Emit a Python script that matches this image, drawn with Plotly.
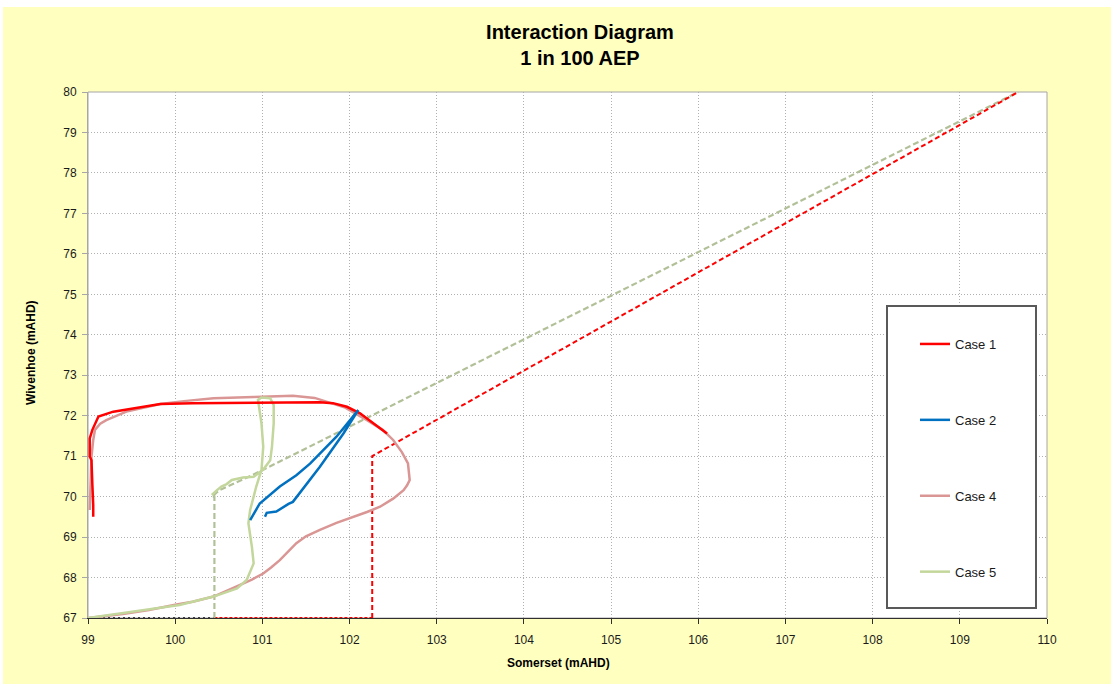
import plotly.graph_objects as go

# Case curves (Somerset level vs Wivenhoe level, mAHD)
case1_x = [99.06, 99.06, 99.05, 99.04, 99.02, 99.02, 99.05, 99.08, 99.12, 99.29, 99.52, 99.83,
           100.2, 100.6, 101.0, 101.4, 101.66, 101.81, 101.97, 102.12, 102.27, 102.43]
case1_y = [69.50, 69.80, 70.30, 70.90, 70.99, 71.44, 71.65, 71.81, 71.98, 72.10, 72.18, 72.29,
           72.31, 72.32, 72.33, 72.33, 72.33, 72.31, 72.22, 72.06, 71.81, 71.56]

case2_x = [100.86, 100.97, 101.20, 101.39, 101.55, 101.85, 102.10, 101.93, 101.66, 101.43,
           101.35, 101.30, 101.20, 101.16, 101.05, 101.03]
case2_y = [69.42, 69.83, 70.25, 70.53, 70.82, 71.48, 72.14, 71.56, 70.74, 70.08,
           69.87, 69.82, 69.67, 69.63, 69.60, 69.50]

case4_x = [99.02, 99.03, 99.04, 99.06, 99.08, 99.14, 99.21, 99.44, 99.67, 99.83, 100.1, 100.44,
           100.9, 101.35, 101.6, 101.74, 101.95, 102.2, 102.38, 102.5, 102.6, 102.67, 102.69,
           102.66, 102.62, 102.5, 102.35, 102.2, 102.04, 101.85, 101.66, 101.5, 101.39, 101.3,
           101.2, 101.1, 101.01, 100.88, 100.74, 100.6, 100.44, 100.2, 100.0, 99.7, 99.4, 99.0]
case4_y = [69.67, 70.20, 70.99, 71.40, 71.65, 71.80, 71.89, 72.10, 72.22, 72.29, 72.36, 72.43,
           72.46, 72.49, 72.44, 72.35, 72.20, 71.89, 71.65, 71.40, 71.10, 70.82, 70.41,
           70.28, 70.16, 69.95, 69.75, 69.62, 69.50, 69.35, 69.18, 69.02, 68.85, 68.65,
           68.43, 68.25, 68.10, 67.95, 67.82, 67.68, 67.53, 67.40, 67.33, 67.20, 67.10, 67.00]

case5_x = [99.0, 99.67, 100.05, 100.44, 100.71, 100.82, 100.9, 100.88, 100.84, 100.86, 100.93,
           100.99, 101.01, 100.99, 100.95, 100.99, 101.09, 101.13, 101.13, 101.11, 101.09, 101.01,
           100.90, 100.78, 100.71, 100.65, 100.59, 100.53, 100.48, 100.42]
case5_y = [67.00, 67.20, 67.32, 67.53, 67.73, 67.94, 68.35, 68.76, 69.34, 69.67, 70.25,
           70.66, 71.23, 71.81, 72.39, 72.45, 72.43, 72.26, 71.81, 71.23, 70.90, 70.67,
           70.49, 70.47, 70.43, 70.41, 70.31, 70.25, 70.16, 70.04]

# Dashed envelope lines
env1_x = [102.26, 102.26, 109.67]
env1_y = [67.0, 71.0, 80.0]
env1_base_x = [100.45, 102.26]
env1_base_y = [67.0, 67.0]
env5_x = [100.45, 100.45, 100.42, 100.51, 100.97, 109.67]
env5_y = [67.0, 70.0, 70.0, 70.16, 70.62, 80.0]
base_x = [99.0, 100.45]
base_y = [67.0, 67.0]

case_names = ["Case 1", "Case 2", "Case 4", "Case 5"]
case_colors = ["#FF0000", "#0070C0", "#D99694", "#C3D69B"]

x_ticks = list(range(99, 111))
y_ticks = list(range(67, 81))

FONT = "Liberation Sans, Arial, sans-serif"

fig = go.Figure()

# envelope / boundary lines (no legend)
fig.add_trace(go.Scatter(x=base_x, y=base_y, mode="lines", showlegend=False, hoverinfo="skip",
                         line=dict(color="#404040", width=2, dash="2px,3px")))
fig.add_trace(go.Scatter(x=env1_base_x, y=env1_base_y, mode="lines", showlegend=False, hoverinfo="skip",
                         line=dict(color="#FF0000", width=2, dash="3px,2px")))
fig.add_trace(go.Scatter(x=env5_x, y=env5_y, mode="lines", showlegend=False, hoverinfo="skip",
                         line=dict(color="#B2C098", width=2.2, dash="6px,3px")))
fig.add_trace(go.Scatter(x=env1_x, y=env1_y, mode="lines", showlegend=False, hoverinfo="skip",
                         line=dict(color="#FF0000", width=2, dash="5px,3px")))

series = [(case1_x, case1_y), (case2_x, case2_y), (case4_x, case4_y), (case5_x, case5_y)]
# draw order: pink and green under red/blue
for idx in [2, 3, 0, 1]:
    xs, ys = series[idx]
    fig.add_trace(go.Scatter(
        x=xs, y=ys, mode="lines", name=case_names[idx],
        legendgroup=case_names[idx], legendrank=idx + 1,
        line=dict(color=case_colors[idx], width=2.5),
    ))

# plot-area pixel geometry: x 88..1047, y 92..618
def px_x(p):
    return (p - 88) / 959.0

def px_y(p):
    return (618 - p) / 526.0

shapes = [
    # yellow chart area with thin white frame around it
    dict(type="rect", xref="paper", yref="paper", layer="below",
         x0=px_x(3), x1=px_x(1111), y0=px_y(684), y1=px_y(7),
         fillcolor="#FFFFC0", line=dict(width=0)),
    # white plot area with grey frame
    dict(type="rect", xref="paper", yref="paper", layer="below",
         x0=0, x1=1, y0=0, y1=1, fillcolor="white", line=dict(color="#A6A6A6", width=1)),
    # legend box
    dict(type="rect", xref="paper", yref="paper", layer="above",
         x0=px_x(887), x1=px_x(1036), y0=px_y(608), y1=px_y(306),
         fillcolor="white", line=dict(color="#595959", width=2)),
]

fig.update_layout(
    width=1114, height=687,
    margin=dict(l=88, r=67, t=92, b=69),
    paper_bgcolor="white",
    plot_bgcolor="white",
    font=dict(family=FONT, size=12, color="#1a1a1a"),
    title=dict(text="<b>Interaction Diagram<br>1 in 100 AEP</b>", x=580 / 1114, xref="container",
               xanchor="center", y=1 - 39 / 687, yanchor="top",
               font=dict(family=FONT, size=20, color="black")),
    shapes=shapes,
    showlegend=True,
    legend=dict(x=px_x(915), xanchor="left", y=px_y(329), yanchor="top",
                bgcolor="rgba(0,0,0,0)", borderwidth=0, tracegroupgap=56,
                font=dict(family=FONT, size=13, color="#1a1a1a")),
    annotations=[
        dict(text="<b>Somerset (mAHD)</b>", x=px_x(558), y=px_y(663), xref="paper",
             yref="paper", showarrow=False, font=dict(family=FONT, size=12, color="black"),
             xanchor="center", yanchor="middle"),
        dict(text="<b>Wivenhoe (mAHD)</b>", x=px_x(31), y=px_y(353), xref="paper",
             yref="paper", showarrow=False, textangle=-90,
             font=dict(family=FONT, size=12, color="black"),
             xanchor="center", yanchor="middle"),
    ],
)

fig.update_xaxes(
    range=[99, 110], tickvals=x_ticks, ticktext=[str(v) for v in x_ticks],
    showgrid=True, gridcolor="#B0B0B0", griddash="1px,2px", gridwidth=1,
    showline=True, linecolor="#303030", linewidth=1,
    ticks="outside", ticklen=5, tickcolor="#303030", zeroline=False,
    ticklabelstandoff=6,
)
fig.update_yaxes(
    range=[67, 80], tickvals=y_ticks, ticktext=[str(v) for v in y_ticks],
    showgrid=True, gridcolor="#B0B0B0", griddash="1px,2px", gridwidth=1,
    showline=True, linecolor="#A6A6A6", linewidth=1,
    ticks="outside", ticklen=5, tickcolor="#A6A6A6", zeroline=False,
    ticklabelstandoff=3,
)

fig.write_html("out.html", config={"displayModeBar": False},
               post_script="document.body.style.margin='0';")
